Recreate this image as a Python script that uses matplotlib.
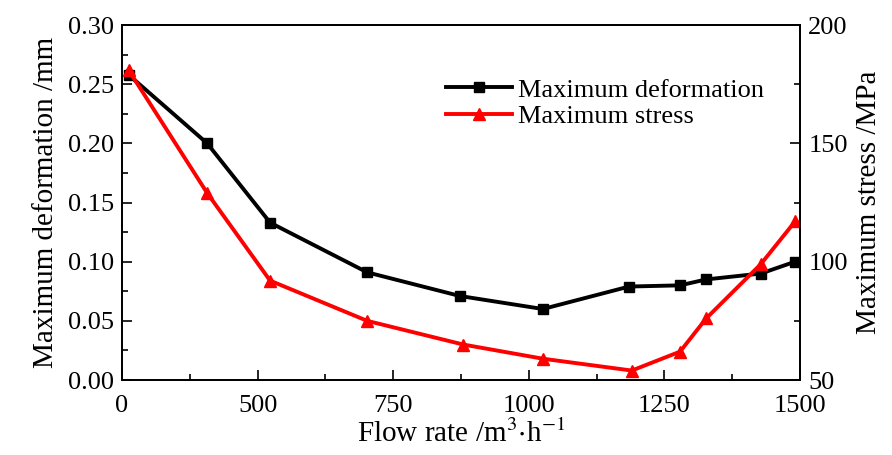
import numpy as np
import matplotlib.pyplot as plt
from matplotlib.ticker import MultipleLocator

plt.rcParams['font.family'] = ['Liberation Serif', 'DejaVu Serif']
plt.rcParams['mathtext.fontset'] = 'stix'

# data
flow_def = [262, 407, 523, 702, 873, 1026, 1185, 1279, 1327, 1428, 1491]
deformation = [0.258, 0.200, 0.133, 0.091, 0.071, 0.060, 0.079, 0.080, 0.085, 0.090, 0.100]
flow_str = [262, 407, 523, 702, 879, 1026, 1190, 1279, 1327, 1428, 1491]
stress = [181, 129, 92, 75, 65, 59, 54, 62, 76, 99, 117]

xticks = [250, 500, 750, 1000, 1250, 1500]
xticklabels = ['0', '500', '750', '1000', '1250', '1500']

fig = plt.figure(figsize=(8.92, 4.55), dpi=100)
ax = fig.add_axes([0.1368, 0.1648, 0.76, 0.7802])
ax2 = ax.twinx()

l1, = ax.plot(flow_def, deformation, 'k-s', lw=2.8, ms=6.5, label='Maximum deformation')
l2, = ax2.plot(flow_str, stress, '-^', color='red', lw=2.8, ms=8, label='Maximum stress')

ax.set_xlim(250, 1500)
ax.set_ylim(0, 0.30)
ax2.set_ylim(50, 200)
ax.set_xticks(xticks)
ax.set_xticklabels(xticklabels)
ax.xaxis.set_minor_locator(MultipleLocator(125))
ax.set_yticks(np.arange(0, 0.31, 0.05))
ax.yaxis.set_major_formatter(plt.FormatStrFormatter('%.2f'))
ax.yaxis.set_minor_locator(MultipleLocator(0.025))
ax2.set_yticks([50, 100, 150, 200])
ax2.yaxis.set_minor_locator(MultipleLocator(25))

for a in (ax, ax2):
    a.tick_params(which='major', direction='in', length=7, width=1.2, labelsize=19, pad=6)
    a.tick_params(which='minor', direction='in', length=4, width=1.2)
    for s in a.spines.values():
        s.set_linewidth(1.3)
ax.tick_params(top=False, which='both')
ax.tick_params(axis='x', pad=11)

ax.set_xlabel('Flow rate /m$^{3}$$\\cdot$h$^{-1}$', fontsize=21, labelpad=2)
ax.set_ylabel('Maximum deformation /mm', fontsize=21, labelpad=6)
ax2.set_ylabel('Maximum stress /MPa', fontsize=21, labelpad=6)

ax.legend(handles=[l1, l2], loc='upper left', bbox_to_anchor=(0.463, 0.88), frameon=False,
          fontsize=19, handlelength=2.5, handletextpad=0.2, labelspacing=0.1, borderaxespad=0)

fig.savefig('out.png', dpi=100)
